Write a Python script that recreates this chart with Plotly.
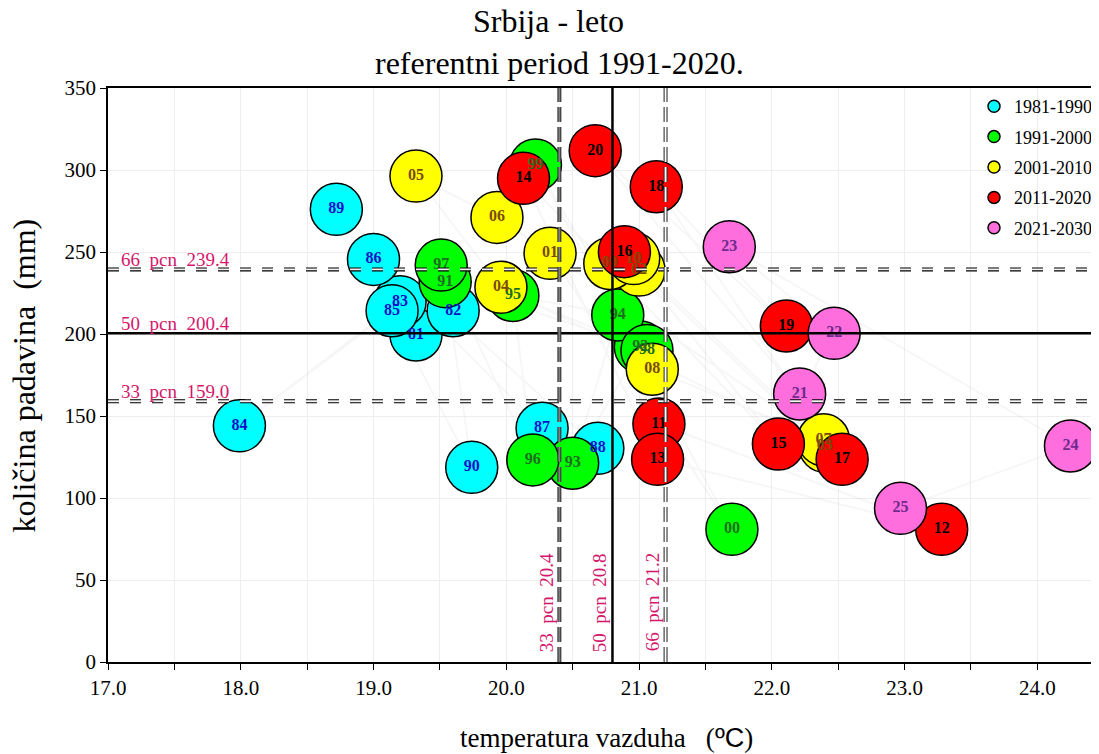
import plotly.graph_objects as go

# ---------------- data ----------------
decades = ["1981-1990", "1991-2000", "2001-2010", "2011-2020", "2021-2030"]
fill_colors = ["#00FFFF", "#00FF00", "#FFFF00", "#FF0000", "#FF6EDC"]
label_colors = ["#1010C8", "#1E6E1E", "#7A4A0A", "#000000", "#6E2A8C"]

labels_80s = ["81", "82", "83", "84", "85", "86", "87", "88", "89", "90"]
temp_80s = [19.32, 19.60, 19.20, 17.99, 19.14, 19.00, 20.27, 20.69, 18.72, 19.74]
prec_80s = [199.4, 214.2, 219.7, 144.0, 214.2, 245.5, 142.5, 130.3, 276.0, 118.7]

labels_90s = ["91", "92", "93", "94", "95", "96", "97", "98", "99", "00"]
temp_90s = [19.54, 21.01, 20.50, 20.84, 20.05, 20.20, 19.51, 21.06, 20.22, 21.70]
prec_90s = [231.9, 192.0, 121.2, 211.6, 223.5, 123.2, 242.0, 190.0, 303.0, 80.9]

labels_00s = ["01", "02", "03", "04", "05", "06", "07", "08", "09", "10"]
temp_00s = [20.33, 21.00, 22.40, 19.96, 19.32, 19.93, 22.39, 21.10, 20.78, 20.96]
prec_00s = [249.2, 239.0, 131.5, 228.5, 296.3, 271.1, 135.5, 178.5, 243.0, 246.0]

labels_10s = ["11", "12", "13", "14", "15", "16", "17", "18", "19", "20"]
temp_10s = [21.15, 23.28, 21.14, 20.13, 22.05, 20.89, 22.53, 21.13, 22.11, 20.67]
prec_10s = [145.1, 80.9, 123.6, 294.9, 132.9, 250.2, 123.6, 289.8, 204.9, 311.8]

labels_20s = ["21", "22", "23", "24", "25"]
temp_20s = [22.21, 22.47, 21.68, 24.25, 22.97]
prec_20s = [163.4, 200.4, 253.2, 131.7, 93.7]

pcn_levels = [33, 50, 66]
temp_pcn = [20.4, 20.8, 21.2]
prec_pcn = [159.0, 200.4, 239.4]

x_ticks = [17.0, 18.0, 19.0, 20.0, 21.0, 22.0, 23.0, 24.0]
y_ticks = [0, 50, 100, 150, 200, 250, 300, 350]

groups = [
    (labels_80s, temp_80s, prec_80s),
    (labels_90s, temp_90s, prec_90s),
    (labels_00s, temp_00s, prec_00s),
    (labels_10s, temp_10s, prec_10s),
    (labels_20s, temp_20s, prec_20s),
]

SERIF = "Liberation Serif"
PINK = "#D4176C"

fig = go.Figure()

# faint chronological trajectory
all_x, all_y = [], []
for lab, tx, py in groups:
    all_x += tx
    all_y += py
fig.add_trace(go.Scatter(x=all_x, y=all_y, mode="lines",
                         line=dict(color="rgba(0,0,0,0.035)", width=2),
                         hoverinfo="skip", showlegend=False))

# circles
for i, (lab, tx, py) in enumerate(groups):
    fig.add_trace(go.Scatter(
        x=tx, y=py, mode="markers", showlegend=False,
        marker=dict(size=52, color=fill_colors[i], line=dict(color="black", width=1.5)),
        hovertext=lab, name=decades[i]))

# labels on top of all circles
txt_x, txt_y, txt_s, txt_c = [], [], [], []
for i, (lab, tx, py) in enumerate(groups):
    txt_x += tx
    txt_y += py
    txt_s += lab
    txt_c += [label_colors[i]] * len(lab)
fig.add_trace(go.Scatter(x=txt_x, y=txt_y, text=txt_s, mode="text", showlegend=False,
                         textfont=dict(family=SERIF, size=16, color=txt_c, weight="bold"),
                         hoverinfo="skip"))

# legend entries
for i, d in enumerate(decades):
    fig.add_trace(go.Scatter(x=[None], y=[None], mode="markers", name=d,
                             legendgroup=d,
                             marker=dict(size=12, color=fill_colors[i],
                                         line=dict(color="black", width=1.5))))

shapes = []
def hline(y, solid):
    if solid:
        shapes.append(dict(type="line", xref="paper", x0=0, x1=1, yref="y", y0=y, y1=y,
                           line=dict(color="black", width=2.5), layer="above"))
    else:
        shapes.append(dict(type="line", xref="paper", x0=0, x1=1, yref="y", y0=y, y1=y,
                           line=dict(color="black", width=4, dash="11px,11px"), layer="above"))
        shapes.append(dict(type="line", xref="paper", x0=0, x1=1, yref="y", y0=y, y1=y,
                           line=dict(color="#F2F2F2", width=1.8, dash="11px,11px"), layer="above"))

def vline(x, solid, inner):
    if solid:
        shapes.append(dict(type="line", yref="paper", y0=0, y1=1, xref="x", x0=x, x1=x,
                           line=dict(color="black", width=2.5), layer="above"))
    else:
        shapes.append(dict(type="line", yref="paper", y0=0, y1=1, xref="x", x0=x, x1=x,
                           line=dict(color="#333333", width=4, dash="15px,5px"), layer="above"))
        shapes.append(dict(type="line", yref="paper", y0=0, y1=1, xref="x", x0=x, x1=x,
                           line=dict(color=inner, width=1.8, dash="15px,5px"), layer="above"))

hline(prec_pcn[0], False)
hline(prec_pcn[1], True)
hline(prec_pcn[2], False)
vline(temp_pcn[0], False, "#808080")
vline(temp_pcn[1], True, None)
vline(temp_pcn[2], False, "#FFFFFF")

NB = "\u00a0"
annotations = []
for lvl, val in zip(pcn_levels, prec_pcn):
    annotations.append(dict(x=17.086, y=val, xref="x", yref="y", xanchor="left", yanchor="bottom",
                            text=f"{lvl}{NB}{NB}pcn{NB}{NB}{val:.1f}", showarrow=False,
                            font=dict(family=SERIF, size=19, color=PINK), yshift=-3))
for lvl, val in zip(pcn_levels, temp_pcn):
    annotations.append(dict(x=val, y=5, xref="x", yref="y", xanchor="right", yanchor="bottom",
                            text=f"{lvl}{NB}{NB}pcn{NB}{NB}{val:.1f}", showarrow=False, textangle=-90,
                            font=dict(family=SERIF, size=19, color=PINK), xshift=-1))

annotations.append(dict(x=0.4455, y=1.1167, xref="paper", yref="paper", xanchor="center", yanchor="middle",
                        text="Srbija - leto", showarrow=False,
                        font=dict(family=SERIF, size=32, color="black")))
annotations.append(dict(x=0.457, y=1.0436, xref="paper", yref="paper", xanchor="center", yanchor="middle",
                        text="referentni period 1991-2020.", showarrow=False,
                        font=dict(family=SERIF, size=32, color="black")))
annotations.append(dict(x=-0.0845, y=0.5, xref="paper", yref="paper", xanchor="center", yanchor="middle",
                        text=f"količina padavina{NB}{NB}(mm)", showarrow=False, textangle=-90,
                        font=dict(family=SERIF, size=32, color="black")))
annotations.append(dict(x=0.504, y=-0.133, xref="paper", yref="paper", xanchor="center", yanchor="middle",
                        text=f"temperatura vazduha{NB}{NB}{NB}(<span style='font-family:Liberation Sans'>ºC</span>)",
                        showarrow=False, font=dict(family=SERIF, size=27, color="black")))

fig.update_layout(
    width=1091, height=746,
    margin=dict(l=100, r=0, t=80, b=92),
    paper_bgcolor="white", plot_bgcolor="white",
    showlegend=True,
    legend=dict(x=1.0, y=1.0, xanchor="right", yanchor="top", bgcolor="rgba(0,0,0,0)",
                font=dict(family=SERIF, size=18, color="black"),
                traceorder="grouped", tracegroupgap=4, itemsizing="trace"),
    shapes=shapes, annotations=annotations,
    xaxis=dict(range=[17, 24.45], tickvals=x_ticks, ticktext=[f"{v:.1f}" for v in x_ticks],
               ticks="outside", ticklen=6, tickcolor="black", showline=True, linecolor="black",
               linewidth=1.5, mirror=True, showgrid=True, gridcolor="#EEEEEE", zeroline=False,
               tickfont=dict(family=SERIF, size=21, color="black"),
               minor=dict(dtick=0.5, ticks="outside", ticklen=6, tickcolor="black",
                          showgrid=True, gridcolor="#EEEEEE")),
    yaxis=dict(range=[0, 350], tickvals=y_ticks, ticks="outside", ticklen=6, tickcolor="black",
               showline=True, linecolor="black", linewidth=1.5, mirror=True, showgrid=True,
               gridcolor="#EEEEEE", zeroline=False,
               tickfont=dict(family=SERIF, size=21, color="black")),
)

fig.write_html("out.html")
